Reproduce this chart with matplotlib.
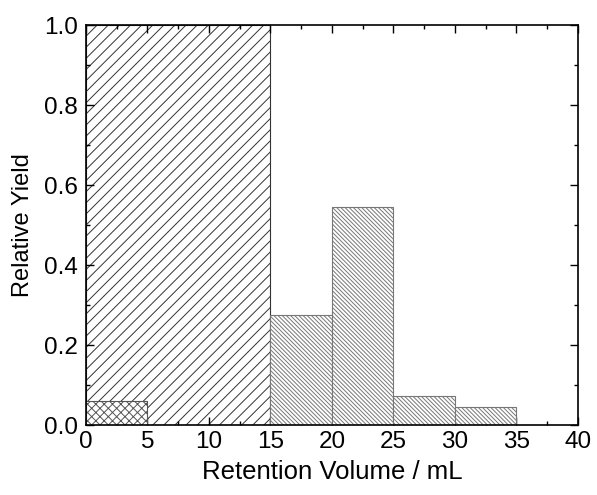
import matplotlib as mpl
mpl.use('Agg')
import matplotlib.pyplot as plt
from matplotlib.ticker import MultipleLocator

# bins (left edge, width) and heights
big_left = [0]
big_width = [15]
big_height = [1.0]

small_left = [0]
small_width = [5]
small_height = [0.06]

right_left = [15, 20, 25, 30]
right_width = [5, 5, 5, 5]
right_height = [0.275, 0.545, 0.072, 0.045]

plt.rcParams['font.family'] = ['Liberation Sans', 'DejaVu Sans']
plt.rcParams['hatch.linewidth'] = 0.7

fig = plt.figure(figsize=(5.97, 4.95), dpi=100)
ax = fig.add_axes([0.144, 0.141, 0.824, 0.808])

ax.bar(big_left, big_height, width=big_width, align='edge',
       facecolor='white', edgecolor='#333333', hatch='///', linewidth=0.8, zorder=1)
ax.bar(small_left, small_height, width=small_width, align='edge',
       facecolor='white', edgecolor='#555555', hatch='xxxx', linewidth=0.8, zorder=2)
ax.bar(right_left, right_height, width=right_width, align='edge',
       facecolor='white', edgecolor='#777777', hatch='\\' * 8, linewidth=0.8, zorder=2)

ax.set_xlim(0, 40)
ax.set_ylim(0, 1.0)
ax.xaxis.set_major_locator(MultipleLocator(5))
ax.xaxis.set_minor_locator(MultipleLocator(2.5))
ax.set_yticks([0, 0.2, 0.4, 0.6, 0.8, 1.0])
ax.set_yticklabels(['0.0', '0.2', '0.4', '0.6', '0.8', '1.0'])
ax.yaxis.set_minor_locator(MultipleLocator(0.1))
ax.tick_params(which='both', direction='in', top=True, right=True, labelsize=17.5)
ax.tick_params(which='major', length=6, width=1)
ax.tick_params(which='minor', length=3, width=1)
ax.tick_params(axis='x', pad=4)
ax.tick_params(axis='y', pad=6)
for s in ax.spines.values():
    s.set_linewidth(1.2)

ax.set_xlabel('Retention Volume / mL', fontsize=18.5, labelpad=5)
ax.set_ylabel('Relative Yield', fontsize=17, labelpad=7)

plt.savefig('out.png')
